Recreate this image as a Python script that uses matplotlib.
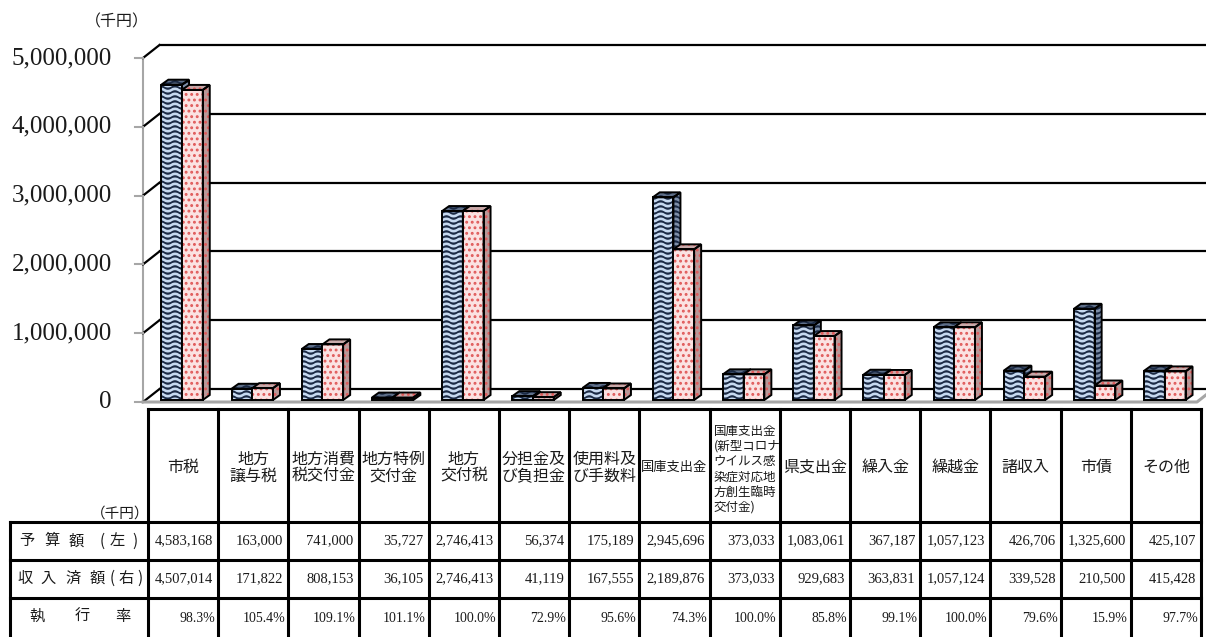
import numpy as np
import matplotlib
matplotlib.use('Agg')
import matplotlib.pyplot as plt
import matplotlib.hatch as mhatch
from matplotlib.path import Path
from matplotlib.patches import Polygon

categories = ['市税', '地方\n譲与税', '地方消費\n税交付金', '地方特例\n交付金', '地方\n交付税',
              '分担金及\nび負担金', '使用料及\nび手数料', '国庫支出金',
              '国庫支出金\n(新型コロナ\nウイルス感\n染症対応地\n方創生臨時\n交付金)',
              '県支出金', '繰入金', '繰越金', '諸収入', '市債', 'その他']
budget = [4583168, 163000, 741000, 35727, 2746413, 56374, 175189, 2945696, 373033,
          1083061, 367187, 1057123, 426706, 1325600, 425107]
received = [4507014, 171822, 808153, 36105, 2746413, 41119, 167555, 2189876, 373033,
            929683, 363831, 1057124, 339528, 210500, 415428]
row_labels = ['予算額(左)', '収入済額(右)', '執行率']
yticks = [0, 1000000, 2000000, 3000000, 4000000, 5000000]

rate = [r / b * 100 for r, b in zip(received, budget)]

# spread-out lettering of the row headings (pixel centre of each character)
row_label_px = [[27, 52, 76, 102, 117, 135],
                [25, 48, 73, 97, 112, 126, 140],
                [37, 82, 123]]

CJK = ['Noto Sans CJK JP', 'DejaVu Sans']
SERIF = ['Liberation Serif', 'DejaVu Serif']
INK = '#1a1a1a'


# wavy line hatch used in place of the plain horizontal one
class WaveHatch(mhatch.HatchPatternBase):
    npts = 7 * 12 + 1

    def __init__(self, hatch, density):
        self.num_lines = int((hatch.count('-') + hatch.count('+')) * density * 0.85)
        self.num_vertices = self.num_lines * self.npts

    def set_vertices_and_codes(self, vertices, codes):
        xs = np.linspace(0.0, 1.0, self.npts)
        step = 1.0 / self.num_lines
        k = 0
        for i in range(self.num_lines):
            vertices[k:k + self.npts, 0] = xs
            vertices[k:k + self.npts, 1] = (i + 0.5) * step + 0.28 * step * np.sin(2 * np.pi * 7 * xs)
            codes[k] = Path.MOVETO
            codes[k + 1:k + self.npts] = Path.LINETO
            k += self.npts


mhatch._hatch_types[mhatch._hatch_types.index(mhatch.HorizontalHatch)] = WaveHatch
plt.rcParams['hatch.linewidth'] = 1.3

W, H = 1206, 637
fig = plt.figure(figsize=(W / 100, H / 100), dpi=100)

# chart axes: one category per 70.2 px, 0..5,000,000 over 344 px
ax = fig.add_axes([148 / W, 235 / H, 1053 / W, 344 / H])
ax.set_xlim(-0.5, 14.5)
ax.set_ylim(0, 5000000)
ax.axis('off')

px = 1 / 70.2            # one pixel in category units
py = 5000000 / 344       # one pixel in value units
wall_x = -0.5 - 5 * px
wdx, wdy = 16.5 * px, 13 * py
right_x = 14.5 - 4 * px

# left wall, gridlines and floor
ax.plot([wall_x, wall_x], [0, yticks[-1]], color='#a6a6a6', lw=1.5, clip_on=False, zorder=1)
for v in yticks:
    ax.plot([wall_x, wall_x + wdx], [v, v + wdy], color='black', lw=1.6, clip_on=False, zorder=1)
    ax.plot([wall_x + wdx, 14.5 + 6 * px], [v + wdy, v + wdy], color='black', lw=1.6,
            clip_on=False, zorder=1)
    ax.plot([wall_x - 8 * px, wall_x], [v, v], color='#a6a6a6', lw=1.5, clip_on=False, zorder=1)
    ax.text(wall_x - 31 * px, v, f'{v:,}', ha='right', va='center', fontsize=18,
            family=SERIF, color=INK)
ax.plot([wall_x, right_x, right_x + wdx], [0, 0, wdy], color='#a6a6a6', lw=2.2,
        clip_on=False, zorder=2, solid_joinstyle='round')

# bars with a shallow 3-D side and top
bw = 0.295
bdx, bdy = 7 * px, 5 * py
lift = 2 * py
x = np.arange(len(categories))

series = [
    (budget, -0.31, dict(face='#c6d9f0', pat='#1b2a45', side='#7d8ea8', top='#5f6f88', hatch='----'), 3),
    (received, -0.015, dict(face='#fbe2e2', pat='#e05a5a', side='#b89898', top='#c9a9a9', hatch='...'), 4),
]
for vals, off, st, z in series:
    x0 = x + off
    ax.bar(x0, vals, width=bw, bottom=lift, align='edge', color=st['face'],
           edgecolor=st['pat'], hatch=st['hatch'], linewidth=0, zorder=z)
    ax.bar(x0, vals, width=bw, bottom=lift, align='edge', fill=False,
           edgecolor='black', linewidth=1.4, zorder=z + 0.2)
    for xl, v in zip(x0, vals):
        xr = xl + bw
        h = v + lift
        side = [(xr, lift), (xr, h), (xr + bdx, h + bdy), (xr + bdx, lift + bdy)]
        top = [(xl, h), (xr, h), (xr + bdx, h + bdy), (xl + bdx, h + bdy)]
        for pts, fc in ((side, st['side']), (top, st['top'])):
            ax.add_patch(Polygon(pts, closed=True, facecolor=fc, edgecolor=st['pat'],
                                 hatch=st['hatch'], linewidth=0, zorder=z))
            ax.add_patch(Polygon(pts, closed=True, fill=False, edgecolor='black',
                                 linewidth=1.4, joinstyle='miter', zorder=z + 0.2))

fig.text(117 / W, 1 - 22 / H, '（千円）', ha='center', va='center', fontsize=11.5,
         family=CJK, color=INK)

# data table underneath
tab = fig.add_axes([148 / W, 0, 1053 / W, 228 / H])
tab.set_xlim(-0.5, 14.5)
tab.set_ylim(228 / 37.7, 0)
tab.axis('off')

row_h = 37.7
label_x = -0.5 - 138 * px
bottom = 228 / row_h
kw = dict(color='black', lw=2.2, clip_on=False, solid_capstyle='projecting')
tab.plot([-0.5, 14.5], [0, 0], **kw)
for yy in (3, 4, 5):
    tab.plot([label_x, 14.5], [yy, yy], **kw)
for k in range(len(categories) + 1):
    tab.plot([k - 0.5, k - 0.5], [0, bottom], **kw)
tab.plot([label_x, label_x], [3, bottom], **kw)

for i, name in enumerate(categories):
    lines = name.split('\n')
    if len(lines) > 2:
        # long heading: small type, one line every 15.3 px from the top of the cell
        for j, line in enumerate(lines):
            tab.text(i - 0.5 + 4 * px, (22 + 15.3 * j) / row_h, line, ha='left', va='center',
                     fontsize=9, family=CJK, color=INK)
    elif len(name) == 5:
        tab.text(i, 1.55, name, ha='center', va='center', fontsize=9.5,
                 family=CJK, color=INK)
    else:
        tab.text(i, 1.55, name, ha='center', va='center', fontsize=11.5,
                 family=CJK, linespacing=1.0, color=INK)
    tab.text(i + 0.5 - 5 * px, 3.5, f'{budget[i]:,}', ha='right', va='center',
             fontsize=10.5, family=SERIF, color=INK)
    tab.text(i + 0.5 - 5 * px, 4.5, f'{received[i]:,}', ha='right', va='center',
             fontsize=10.5, family=SERIF, color=INK)
    tab.text(i + 0.5 - 3 * px, 5.55, f'{rate[i]:.1f}%', ha='right', va='center',
             fontsize=10, family=SERIF, color=INK)

for j, (lab, cx) in enumerate(zip(row_labels, row_label_px)):
    for ch, p in zip(lab, cx):
        tab.text(-0.5 + (p - 148) * px, 3.5 + j, ch, ha='center', va='center', fontsize=11,
                 family=CJK, color=INK)
tab.text(-0.5 - 28 * px, 2.78, '（千円）', ha='center', va='center', fontsize=10.5,
         family=CJK, color=INK)

fig.savefig('out.png', dpi=100)
